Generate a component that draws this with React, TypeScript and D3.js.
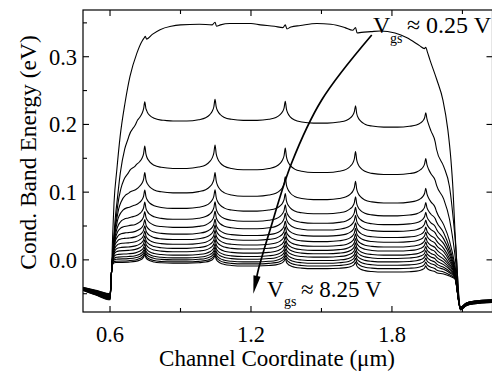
import React from "react";
import * as d3 from "d3";

// gate voltages of the 17 curves (V)
const vgs = [0.25, 0.75, 1.25, 1.75, 2.25, 2.75, 3.25, 3.75, 4.25, 4.75, 5.25, 5.75, 6.25, 6.75, 7.25, 7.75, 8.25];

const xTicks = [0.6, 1.2, 1.8];
const xMinorTicks = [0.9, 1.5, 2.1];
const yTicks = [0.0, 0.1, 0.2, 0.3];
const yMinorTicks = [-0.05, 0.05, 0.15, 0.25, 0.35];

// Vgs = 0.25 V, read point by point
const topCurve: [number, number][] = [
  [0.485, -0.041], [0.54, -0.046], [0.6, -0.053], [0.604, -0.04], [0.607, -0.012], [0.611, 0.034],
  [0.617, 0.084], [0.629, 0.133], [0.643, 0.182], [0.664, 0.232], [0.685, 0.271], [0.714, 0.305],
  [0.738, 0.324], [0.746, 0.328], [0.75, 0.33], [0.756, 0.326], [0.78, 0.333], [0.813, 0.34],
  [0.86, 0.345], [0.9, 0.347], [0.98, 0.348], [1.035, 0.347], [1.047, 0.351], [1.053, 0.345],
  [1.07, 0.347], [1.11, 0.349], [1.2, 0.349], [1.24, 0.347], [1.3, 0.345], [1.336, 0.343],
  [1.346, 0.347], [1.353, 0.341], [1.37, 0.344], [1.41, 0.346], [1.48, 0.349], [1.54, 0.348],
  [1.6, 0.343], [1.633, 0.339], [1.645, 0.343], [1.652, 0.335], [1.67, 0.336], [1.71, 0.337],
  [1.75, 0.338], [1.813, 0.335], [1.864, 0.328], [1.919, 0.316], [1.938, 0.312], [1.944, 0.314],
  [1.95, 0.308], [1.962, 0.295], [1.991, 0.266], [2.017, 0.236], [2.038, 0.192], [2.051, 0.148],
  [2.06, 0.103], [2.068, 0.044], [2.077, -0.01], [2.085, -0.059], [2.091, -0.07], [2.115, -0.064],
  [2.15, -0.061], [2.228, -0.059],
];

// cusps along the channel (um)
const spikeX = [0.748, 1.047, 1.346, 1.645, 1.944];
const spikeScale = [0.95, 1.05, 1.0, 0.95, 0.7];

// the other 16 curves (0.75 V ... 8.25 V)
const riseLevel = [0.21, 0.137, 0.1, 0.077, 0.061, 0.049, 0.039, 0.031, 0.024, 0.018, 0.013, 0.008, 0.004, 0.001, -0.002, -0.004];
const riseLength = [0.037, 0.026, 0.02, 0.016, 0.014, 0.012, 0.01, 0.009, 0.008, 0.007, 0.006, 0.005, 0.0045, 0.004, 0.0035, 0.003];
const plateau = [
  [0.205, 0.206, 0.202, 0.196],
  [0.135, 0.133, 0.129, 0.126],
  [0.099, 0.094, 0.089, 0.084],
  [0.076, 0.072, 0.068, 0.065],
  [0.06, 0.057, 0.054, 0.052],
  [0.048, 0.046, 0.044, 0.042],
  [0.038, 0.036, 0.035, 0.033],
  [0.03, 0.029, 0.027, 0.026],
  [0.023, 0.022, 0.02, 0.019],
  [0.017, 0.016, 0.014, 0.013],
  [0.012, 0.01, 0.009, 0.007],
  [0.007, 0.005, 0.004, 0.002],
  [0.003, 0.001, -0.001, -0.003],
  [0.0, -0.003, -0.005, -0.008],
  [-0.003, -0.006, -0.009, -0.013],
  [-0.005, -0.009, -0.013, -0.018],
];
const spikeHeight = [0.03, 0.034, 0.031, 0.028, 0.026, 0.024, 0.022, 0.021, 0.02, 0.019, 0.018, 0.017, 0.016, 0.015, 0.014, 0.013];
const fallX = [1.99, 2.02, 2.045, 2.068];
const fallY = [
  [0.163, 0.138, 0.108, 0.035],
  [0.11, 0.09, 0.06, 0.008],
  [0.071, 0.052, 0.028, -0.008],
  [0.056, 0.04, 0.018, -0.012],
  [0.045, 0.031, 0.012, -0.015],
  [0.036, 0.024, 0.007, -0.017],
  [0.028, 0.017, 0.002, -0.019],
  [0.021, 0.012, -0.002, -0.02],
  [0.015, 0.006, -0.006, -0.021],
  [0.009, 0.001, -0.009, -0.022],
  [0.004, -0.003, -0.012, -0.023],
  [-0.001, -0.007, -0.014, -0.024],
  [-0.006, -0.011, -0.017, -0.025],
  [-0.01, -0.014, -0.019, -0.026],
  [-0.015, -0.018, -0.022, -0.027],
  [-0.019, -0.021, -0.024, -0.028],
];
// where each curve sits inside the thick source / drain bundle (0 = top)
const bundlePos = [0, 0.07, 0.13, 0.2, 0.27, 0.33, 0.4, 0.47, 0.53, 0.6, 0.67, 0.73, 0.8, 0.87, 0.93, 1];

const sourceX = [0.485, 0.54, 0.6];
const sourceTop = [-0.041, -0.045, -0.05];
const sourceBottom = [-0.045, -0.052, -0.059];
const drainX = [2.092, 2.115, 2.15, 2.228];
const drainTop = [-0.07, -0.064, -0.061, -0.059];
const drainBottom = [-0.074, -0.068, -0.065, -0.063];
const channelStart = [0.607, -0.015];

// shapes shared by the curves: rise at the source edge and the cusp
const riseT = [0, 0.25, 0.5, 1, 1.5, 2, 3, 4, 6];
const riseF = [0, 0.22, 0.39, 0.63, 0.78, 0.865, 0.95, 0.982, 1];
const spikeDx = [-0.12, -0.07, -0.04, -0.022, -0.012, -0.005, 0, 0.005, 0.012, 0.022, 0.04, 0.07, 0.12];
const spikeF = [0, 0.06, 0.15, 0.3, 0.45, 0.66, 1, 0.64, 0.43, 0.28, 0.14, 0.05, 0];

// arrow from the 0.25 V label down to the 8.25 V label
const arrowPath: [number, number][] = [
  [1.714, 0.332], [1.501, 0.236], [1.373, 0.143], [1.281, 0.044], [1.231, -0.015], [1.21, -0.05],
];

const riseShape = d3.scaleLinear().domain(riseT).range(riseF).clamp(true);
const spikeShape = d3.scaleLinear().domain(spikeDx).range(spikeF).clamp(true);

function bandCurve(i: number): [number, number][] {
  const lv = plateau[i];
  const rise = (v: number) =>
    channelStart[1] + (riseLevel[i] - channelStart[1]) * riseShape((v - channelStart[0]) / riseLength[i]);
  const fall = d3.scaleLinear().domain([spikeX[4], ...fallX]).range([lv[3], ...fallY[i]]).clamp(true);
  const base = (v: number) => {
    if (v < spikeX[0]) return rise(v);
    if (v >= spikeX[4]) return fall(v);
    return lv[d3.bisectRight(spikeX, v) - 1];
  };
  const peaks = spikeX.map((sx, k) => {
    const left = k === 0 ? rise(sx) : lv[k - 1];
    const right = k === 4 ? lv[3] : lv[k];
    return (left + right) / 2 + spikeHeight[i] * spikeScale[k];
  });
  const value = (v: number) => {
    const b = base(v);
    const k = d3.minIndex(spikeX, (sx) => Math.abs(v - sx));
    const dx = v - spikeX[k];
    const f = k === 4 && dx > 0.041 ? 0 : spikeShape(dx);
    return b + f * (peaks[k] - b);
  };

  const xs: number[] = [];
  riseT.forEach((t) => xs.push(channelStart[0] + t * riseLength[i]));
  spikeX.forEach((sx, k) =>
    spikeDx.forEach((dx) => {
      if (k < 4 || dx <= 0.04) xs.push(sx + dx);
    })
  );
  for (let k = 0; k < 4; k++) xs.push((spikeX[k] + spikeX[k + 1]) / 2);
  fallX.forEach((v) => xs.push(v));
  const channel = Array.from(new Set(xs.map((v) => +v.toFixed(4))))
    .filter((v) => v >= channelStart[0] && v <= fallX[3])
    .sort((a, b) => a - b);

  const p = bundlePos[i];
  const pts: [number, number][] = [];
  sourceX.forEach((v, k) => pts.push([v, sourceTop[k] + (sourceBottom[k] - sourceTop[k]) * p]));
  channel.forEach((v) => pts.push([v, v === fallX[3] ? fallY[i][3] : value(v)]));
  drainX.forEach((v, k) => pts.push([v, drainTop[k] + (drainBottom[k] - drainTop[k]) * p]));
  return pts;
}

export default function App() {
  const left = 83, right = 492.5, top = 10, bottom = 312;
  const x = d3.scaleLinear().domain([0.485, 2.228]).range([left, right]);
  const y = d3.scaleLinear().domain([-0.077, 0.369]).range([bottom, top]);
  const line = d3
    .line<[number, number]>()
    .x((d) => x(d[0]))
    .y((d) => y(d[1]))
    .curve(d3.curveMonotoneX);

  const curves = [topCurve, ...plateau.map((_, i) => bandCurve(i))];

  // arrow in pixel space
  const arrowPx = arrowPath.map((d) => [x(d[0]), y(d[1])] as [number, number]);
  const tip = arrowPx[arrowPx.length - 1];
  const prev = arrowPx[arrowPx.length - 2];
  const len = Math.hypot(tip[0] - prev[0], tip[1] - prev[1]);
  const ux = (tip[0] - prev[0]) / len, uy = (tip[1] - prev[1]) / len;
  const headL = 18, headW = 3.6;
  const bx = tip[0] - ux * headL, by = tip[1] - uy * headL;
  const head = `M${tip[0]},${tip[1]}L${bx - uy * headW},${by + ux * headW}L${bx + uy * headW},${by - ux * headW}Z`;
  const arrowLine = d3
    .line<[number, number]>()
    .curve(d3.curveCatmullRom)([...arrowPx.slice(0, -1), [bx + ux * 4, by + uy * 4]]);

  const fmt = d3.format(".1f");
  const font = "'Liberation Serif', 'Times New Roman', serif";

  return (
    <svg
      width={492}
      height={372}
      style={{ position: "absolute", left: 0, top: 0, background: "#fff", fontFamily: font }}
      fontFamily={font}
    >
      <defs>
        <clipPath id="plot">
          <rect x={left} y={top} width={right - left} height={bottom - top} />
        </clipPath>
      </defs>
      <rect width={492} height={372} fill="#fff" />

      <g clipPath="url(#plot)" fill="none" stroke="#000" strokeWidth={1.1}>
        {curves.map((c, i) => (
          <path key={i} d={line(c) ?? ""} />
        ))}
      </g>

      {/* frame and ticks */}
      <rect x={left} y={top} width={right - left} height={bottom - top} fill="none" stroke="#000" strokeWidth={1.2} />
      <g stroke="#000" strokeWidth={1.1}>
        {xTicks.map((t) => (
          <g key={"xt" + t}>
            <line x1={x(t)} x2={x(t)} y1={bottom} y2={bottom - 6} />
            <line x1={x(t)} x2={x(t)} y1={top} y2={top + 6} />
          </g>
        ))}
        {xMinorTicks.map((t) => (
          <g key={"xm" + t}>
            <line x1={x(t)} x2={x(t)} y1={bottom} y2={bottom - 4} />
            <line x1={x(t)} x2={x(t)} y1={top} y2={top + 4} />
          </g>
        ))}
        {yTicks.map((t) => (
          <g key={"yt" + t}>
            <line x1={left} x2={left + 6} y1={y(t)} y2={y(t)} />
            <line x1={right} x2={right - 6} y1={y(t)} y2={y(t)} />
          </g>
        ))}
        {yMinorTicks.map((t) => (
          <line key={"ym" + t} x1={left} x2={left + 4} y1={y(t)} y2={y(t)} />
        ))}
      </g>

      <g fontSize={22.5} fill="#000">
        {xTicks.map((t) => (
          <text key={"xl" + t} x={x(t)} y={342} textAnchor="middle">
            {fmt(t)}
          </text>
        ))}
        {yTicks.map((t) => (
          <text key={"yl" + t} x={77} y={y(t) + 8} textAnchor="end">
            {fmt(t)}
          </text>
        ))}
      </g>

      <text x={277} y={366} fontSize={23} textAnchor="middle">
        Channel Coordinate (μm)
      </text>
      <text transform="translate(36,152.5) rotate(-90)" fontSize={23.5} textAnchor="middle">
        Cond. Band Energy (eV)
      </text>

      {/* arrow */}
      <path d={arrowLine ?? ""} fill="none" stroke="#000" strokeWidth={1.7} />
      <path d={head} fill="#000" />

      {/* labels */}
      <g fill="#000">
        <text x={x(1.719)} y={y(0.335)} fontSize={24}>V</text>
        <text x={x(1.719) + 17} y={y(0.335) + 10} fontSize={14}>gs</text>
        <text x={x(1.719) + 34} y={y(0.335)} fontSize={24}>≈ {vgs[0]} V</text>

        <text x={x(1.268)} y={y(-0.0547)} fontSize={23}>V</text>
        <text x={x(1.268) + 17} y={y(-0.0547) + 9} fontSize={14}>gs</text>
        <text x={x(1.268) + 34} y={y(-0.0547)} fontSize={23}>≈ {vgs[vgs.length - 1]} V</text>
      </g>
    </svg>
  );
}
